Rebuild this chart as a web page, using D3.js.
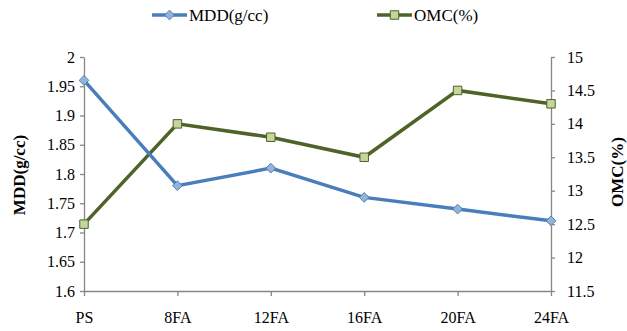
<!DOCTYPE html>
<html><head><meta charset="utf-8">
<script src="https://cdn.jsdelivr.net/npm/d3@7"></script>
<style>
body{margin:0;background:#fff;}
svg text{font-family:"Liberation Serif","Times New Roman",serif !important;}
</style></head>
<body><svg id="c" width="627" height="331"></svg>
<script>
const categories = ["PS","8FA","12FA","16FA","20FA","24FA"];
const mdd = [1.96,1.78,1.81,1.76,1.74,1.72];
const omc = [12.5,14.0,13.8,13.5,14.5,14.3];
const leftTicks = [1.6,1.65,1.7,1.75,1.8,1.85,1.9,1.95,2];
const rightTicks = [11.5,12,12.5,13,13.5,14,14.5,15];

const FONT = "Liberation Serif, Times New Roman, serif";
const svg = d3.select("#c");
const L = 84, R = 551, T = 57, B = 291;
const x = d3.scalePoint().domain(categories).range([L,R]);
const yL = d3.scaleLinear().domain([1.6,2]).range([B,T]);
const yR = d3.scaleLinear().domain([11.5,15]).range([B,T]);
const axisColor = "#868686";

function styleAxis(g){
  g.attr("font-family",FONT).attr("font-size",16);
  g.selectAll("path,line").attr("stroke",axisColor).attr("stroke-width",1.3);
  g.selectAll("text").attr("fill","#000");
}

svg.append("g").attr("transform",`translate(${L},0)`)
  .call(d3.axisLeft(yL).tickValues(leftTicks).tickFormat(d=>String(+d.toFixed(2))).tickSize(4).tickSizeOuter(0).tickPadding(5))
  .call(styleAxis);
svg.append("g").attr("transform",`translate(${R},0)`)
  .call(d3.axisRight(yR).tickValues(rightTicks).tickFormat(d=>String(d)).tickSize(4).tickSizeOuter(0).tickPadding(12))
  .call(styleAxis);
svg.append("g").attr("transform",`translate(0,${B})`)
  .call(d3.axisBottom(x).tickSize(5).tickSizeOuter(0).tickPadding(16))
  .call(styleAxis);

// axis titles
svg.append("text").attr("transform",`translate(25,${(T+B)/2+1}) rotate(-90)`)
  .attr("text-anchor","middle").attr("font-family",FONT).attr("font-size",17).attr("font-weight","bold").text("MDD(g/cc)");
svg.append("text").attr("transform",`translate(623,${(T+B)/2-2}) rotate(-90)`)
  .attr("text-anchor","middle").attr("font-family",FONT).attr("font-size",17).attr("font-weight","bold").text("OMC(%)");

const blue = "#4a7ebb", blueFill = "#95b3d7";
const green = "#4f6228", greenFill = "#c3d69b";

const lineL = d3.line().x((d,i)=>x(categories[i])).y(d=>yL(d));
const lineR = d3.line().x((d,i)=>x(categories[i])).y(d=>yR(d));

svg.append("path").datum(omc).attr("d",lineR).attr("fill","none").attr("stroke",green).attr("stroke-width",3.5);
svg.append("path").datum(mdd).attr("d",lineL).attr("fill","none").attr("stroke",blue).attr("stroke-width",3.5);

const diamond = d3.symbol().type(d3.symbolDiamond2).size(60);
const square = d3.symbol().type(d3.symbolSquare).size(72);

svg.append("g").selectAll("path").data(omc).join("path")
  .attr("transform",(d,i)=>`translate(${x(categories[i])},${yR(d)})`)
  .attr("d",square).attr("fill",greenFill).attr("stroke",green).attr("stroke-width",1);
svg.append("g").selectAll("path").data(mdd).join("path")
  .attr("transform",(d,i)=>`translate(${x(categories[i])},${yL(d)})`)
  .attr("d",diamond).attr("fill",blueFill).attr("stroke",blue).attr("stroke-width",1);

// legend
const legend = [
  {name:"MDD(g/cc)", color:blue, fill:blueFill, sym:diamond, x0:152},
  {name:"OMC(%)", color:green, fill:greenFill, sym:square, x0:377}
];
legend.forEach(l=>{
  const g = svg.append("g");
  g.append("line").attr("x1",l.x0).attr("x2",l.x0+35).attr("y1",15).attr("y2",15)
   .attr("stroke",l.color).attr("stroke-width",3.5);
  g.append("path").attr("transform",`translate(${l.x0+17.5},15)`).attr("d",l.sym)
   .attr("fill",l.fill).attr("stroke",l.color).attr("stroke-width",1);
  g.append("text").attr("x",l.x0+37).attr("y",21).attr("font-family",FONT).attr("font-size",17).text(l.name);
});
</script></body></html>
